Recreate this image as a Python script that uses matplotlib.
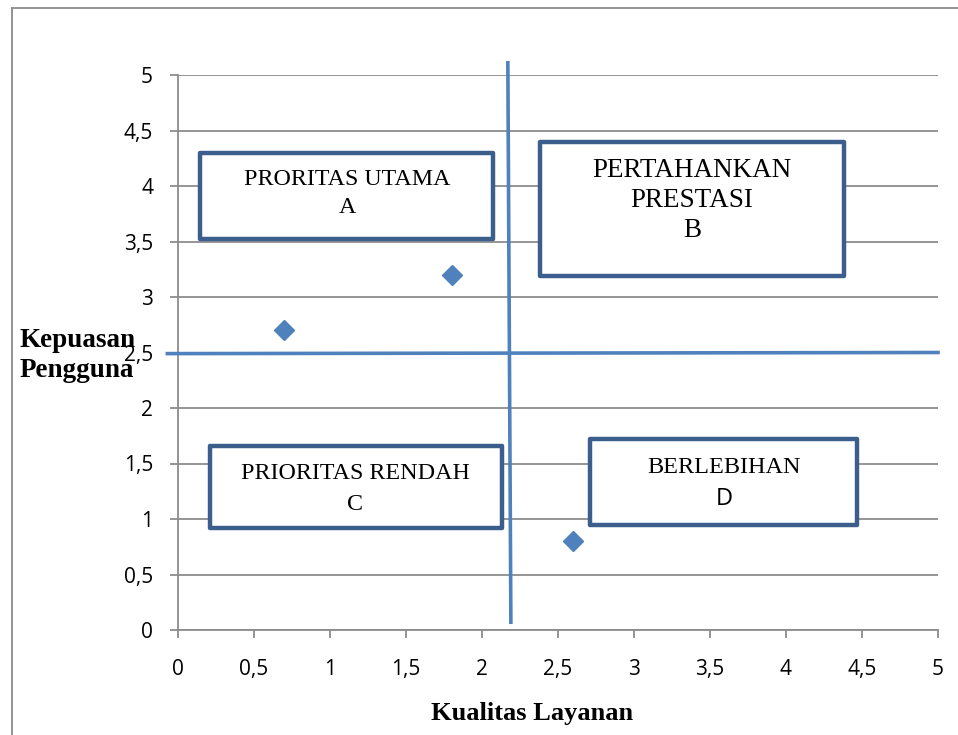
import matplotlib
matplotlib.use("Agg")
import matplotlib.pyplot as plt
from matplotlib.patches import Rectangle
from matplotlib.lines import Line2D

# ---- data ----
x_vals = [0.7, 1.8, 2.6]
y_vals = [2.7, 3.2, 0.8]
ticks = [0, 0.5, 1, 1.5, 2, 2.5, 3, 3.5, 4, 4.5, 5]
tick_labels = ["0", "0,5", "1", "1,5", "2", "2,5", "3", "3,5", "4", "4,5", "5"]
vline_x = [2.17, 2.19]
vline_y = [5.11, 0.07]
hline_x = [-0.07, 5.0]
hline_y = [2.49, 2.5]
# quadrant boxes: (x0, y0, x1, y1)
box_A = (0.145, 3.52, 2.07, 4.30)
box_B = (2.38, 3.19, 4.38, 4.40)
box_C = (0.21, 0.92, 2.13, 1.66)
box_D = (2.71, 0.95, 4.47, 1.72)
lines_A = ["PRORITAS UTAMA", "A"]
lines_B = ["PERTAHANKAN", "PRESTASI", "B"]
lines_C = ["PRIORITAS RENDAH", "C"]
lines_D = ["BERLEBIHAN", "D"]

W, H = 958, 735
fig = plt.figure(figsize=(W / 100, H / 100), dpi=100)
ax = fig.add_axes([178 / W, (H - 630) / H, (938 - 178) / W, (630 - 75) / H])

grid_c = "#8c8c8c"
blue = "#4F81BD"
box_c = "#3B5E8C"

ax.set_xlim(0, 5)
ax.set_ylim(0, 5)
ax.set_xticks(ticks)
ax.set_xticklabels(tick_labels)
ax.set_yticks(ticks)
ax.set_yticklabels(tick_labels)
for s in ["top", "right"]:
    ax.spines[s].set_visible(False)
for s in ["left", "bottom"]:
    ax.spines[s].set_color(grid_c)
    ax.spines[s].set_linewidth(1.3)
ax.tick_params(axis="both", colors=grid_c, length=6, width=1.3,
               labelcolor="black", labelsize=15)
ax.tick_params(axis="y", pad=12)
ax.tick_params(axis="x", pad=15)
for lab in ax.get_xticklabels() + ax.get_yticklabels():
    lab.set_fontfamily("Open Sans")
ax.yaxis.grid(True, color=grid_c, linewidth=1.3)
ax.set_axisbelow(True)

# quadrant lines
ax.plot(vline_x, vline_y, color=blue, lw=2.6, clip_on=False, zorder=3)
ax.plot(hline_x, hline_y, color=blue, lw=2.6, clip_on=False, zorder=3)

# points
ax.plot(x_vals, y_vals, linestyle="none", marker="D", markersize=10.5,
        color=blue, zorder=4)

serif = "Liberation Serif"


def add_box(b):
    r = Rectangle((b[0], b[1]), b[2] - b[0], b[3] - b[1], facecolor="white",
                  edgecolor=box_c, lw=3.2, joinstyle="round", zorder=5)
    ax.add_patch(r)


for b in [box_A, box_B, box_C, box_D]:
    add_box(b)


def px_y(p):
    return (630 - p) / 111.0


def px_x(p):
    return (p - 178) / 152.0


def add_lines(xc_px, baselines_px, lines, size, fams):
    for ypx, txt, fam in zip(baselines_px, lines, fams):
        ax.text(px_x(xc_px), px_y(ypx), txt, ha="center", va="baseline",
                fontsize=size, family=fam, zorder=6)


add_lines(347, [185, 213], lines_A, 17.3, [serif, serif])
add_lines(692, [177, 207, 237], lines_B, 19.5, [serif, serif, serif])
add_lines(355, [479, 510], lines_C, 17.3, [serif, serif])
ax.text(px_x(724), px_y(473), lines_D[0], ha="center", va="baseline",
        fontsize=17.5, family=serif, zorder=6)
ax.text(px_x(724), px_y(505), lines_D[1], ha="center", va="baseline",
        fontsize=17, family="Open Sans", zorder=6)

# axis titles
fig.text(532 / W, 1 - 720 / H, "Kualitas Layanan", ha="center", va="baseline",
         fontsize=19, fontweight="bold", family=serif)
fig.text(20 / W, 1 - 347 / H, "Kepuasan", ha="left", va="baseline",
         fontsize=19.5, fontweight="bold", family=serif, zorder=10)
fig.text(20 / W, 1 - 377 / H, "Pengguna", ha="left", va="baseline",
         fontsize=19.5, fontweight="bold", family=serif, zorder=10)

# outer frame
fig.add_artist(Line2D([12 / W, 12 / W], [0, 1 - 8 / H], color="#8a8a8a", lw=1.3))
fig.add_artist(Line2D([12 / W, 1], [1 - 8 / H, 1 - 8 / H], color="#8a8a8a", lw=1.3))

fig.savefig("out.png", dpi=100)
